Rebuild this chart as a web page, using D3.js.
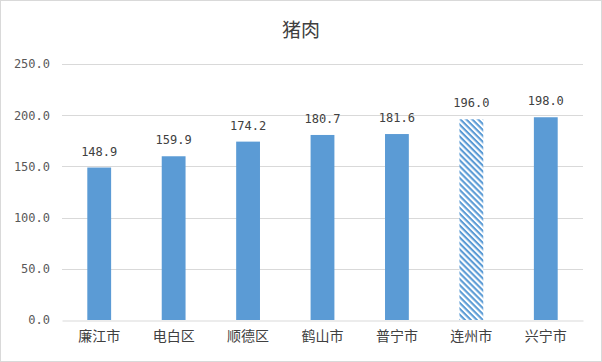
<!DOCTYPE html>
<html>
<head>
<meta charset="utf-8">
<script src="https://cdn.jsdelivr.net/npm/d3@7"></script>
<style>
  body { margin: 0; background: #fff; }
  text { font-family: "Noto Sans CJK SC", "DejaVu Sans", sans-serif; }
  .num { font-family: "DejaVu Sans Mono", monospace; }
</style>
</head>
<body>
<svg width="602" height="362"></svg>
<script>
var cities = ["廉江市", "电白区", "顺德区", "鹤山市", "普宁市", "连州市", "兴宁市"];
var prices = [148.9, 159.9, 174.2, 180.7, 181.6, 196.0, 198.0];
var hatched = ["连州市"];
var yTicks = [0, 50, 100, 150, 200, 250];

var svg = d3.select("svg"),
  margin = {top: 64, right: 19, bottom: 42, left: 62},
  width = svg.attr("width") - margin.left - margin.right,
  height = svg.attr("height") - margin.top - margin.bottom;

var blue = "#5b9bd5";

svg.append("rect")
  .attr("x", 0.5).attr("y", 0.5)
  .attr("width", 601).attr("height", 361)
  .attr("fill", "#fff").attr("stroke", "#d9d9d9");

// diagonal stripes, top-left to bottom-right
var pat = svg.append("defs").append("pattern")
  .attr("id", "hatch")
  .attr("patternUnits", "userSpaceOnUse")
  .attr("width", 4.2).attr("height", 4.2)
  .attr("patternTransform", "rotate(45)");
pat.append("rect").attr("width", 4.2).attr("height", 4.2).attr("fill", "#fff");
pat.append("rect").attr("width", 4.2).attr("height", 2.1).attr("fill", blue);

svg.append("text")
  .attr("x", 301).attr("y", 37)
  .attr("text-anchor", "middle")
  .attr("font-size", 19)
  .attr("fill", "#404040")
  .text("猪肉");

var g = svg.append("g").attr("transform", "translate(" + margin.left + "," + margin.top + ")");

var x = d3.scaleBand().domain(cities).range([0, width]).paddingInner(0.68).paddingOuter(0.34);
var y = d3.scaleLinear().domain([0, 250]).range([height, 0]);

g.append("g")
  .selectAll("line")
  .data(yTicks.slice(1))
  .enter().append("line")
  .attr("x1", 0).attr("x2", width)
  .attr("y1", function(d) { return Math.round(y(d)) + 0.5; })
  .attr("y2", function(d) { return Math.round(y(d)) + 0.5; })
  .attr("stroke", "#d9d9d9");

var yAxis = g.append("g")
  .call(d3.axisLeft(y).tickValues(yTicks).tickSize(0).tickPadding(12).tickFormat(d3.format(".1f")));
yAxis.select(".domain").remove();
yAxis.selectAll("text").attr("class", "num").attr("font-size", 12).attr("fill", "#595959");

g.selectAll(".bar")
  .data(cities)
  .enter().append("rect")
  .attr("class", "bar")
  .attr("x", function(d) { return x(d); })
  .attr("width", x.bandwidth())
  .attr("y", function(d, i) { return y(prices[i]); })
  .attr("height", function(d, i) { return height - y(prices[i]); })
  .attr("fill", function(d) { return hatched.indexOf(d) >= 0 ? "url(#hatch)" : blue; });

g.selectAll(".label")
  .data(cities)
  .enter().append("text")
  .attr("class", "num")
  .attr("x", function(d) { return x(d) + x.bandwidth() / 2; })
  .attr("y", function(d, i) { return y(prices[i]) - 12; })
  .attr("text-anchor", "middle")
  .attr("font-size", 12)
  .attr("fill", "#404040")
  .text(function(d, i) { return prices[i].toFixed(1); });

var xAxis = g.append("g")
  .attr("transform", "translate(0," + (height + 0.5) + ")")
  .call(d3.axisBottom(x).tickSize(0).tickPadding(11));
xAxis.select(".domain").attr("stroke", "#d9d9d9");
xAxis.selectAll("text").attr("font-size", 14).attr("fill", "#404040");
</script>
</body>
</html>
